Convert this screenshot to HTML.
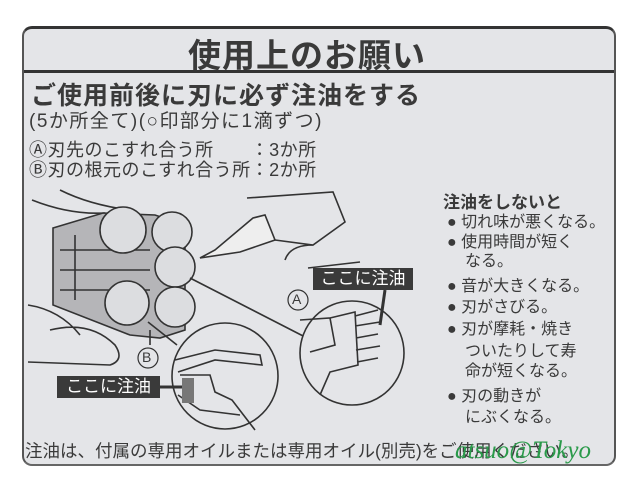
<!DOCTYPE html>
<html><head><meta charset="utf-8"><style>
body{margin:0;width:642px;height:493px;background:#fff;overflow:hidden;position:relative;font-family:"Liberation Sans","Noto Sans CJK JP",sans-serif;color:#3a3a3a}
.card{position:absolute;left:22px;top:26px;width:594px;height:440px;background:#e4e5e8;border-radius:10px;border-top:3px solid #333;border-left:2px solid #555;border-right:2px solid #555;border-bottom:2px solid #666;box-sizing:border-box}
.t{position:absolute;white-space:nowrap}
.r{position:absolute;white-space:nowrap;font-size:16px;line-height:20px}
</style></head><body>
<div class="card"></div>
<div style="position:absolute;left:24px;top:70px;width:590px;height:3px;background:#333"></div>
<div class="t" style="left:188px;top:29px;font-size:33px;font-weight:bold;letter-spacing:1px">使用上のお願い</div>
<div class="t" style="left:31px;top:76px;font-size:25px;font-weight:bold;letter-spacing:1px">ご使用前後に刃に必ず注油をする</div>
<div class="t" style="left:29px;top:106px;font-size:19px;letter-spacing:1.5px">(5か所全て)(○印部分に1滴ずつ)</div>
<div class="t" style="left:29px;top:141px;font-size:18px;line-height:19px;letter-spacing:0.5px">Ⓐ刃先のこすれ合う所　　：3か所</div>
<div class="t" style="left:29px;top:161px;font-size:18px;line-height:19px;letter-spacing:0.5px">Ⓑ刃の根元のこすれ合う所：2か所</div>
<div class="t" style="left:443px;top:188px;font-size:17px;font-weight:bold">注油をしないと</div>
<div class="r" style="left:447px;top:213px">● 切れ味が悪くなる。</div>
<div class="r" style="left:447px;top:233px">● 使用時間が短く</div>
<div class="r" style="left:465px;top:252px">なる。</div>
<div class="r" style="left:447px;top:277px">● 音が大きくなる。</div>
<div class="r" style="left:447px;top:298px">● 刃がさびる。</div>
<div class="r" style="left:447px;top:320px">● 刃が摩耗・焼き</div>
<div class="r" style="left:465px;top:342px">ついたりして寿</div>
<div class="r" style="left:465px;top:362px">命が短くなる。</div>
<div class="r" style="left:447px;top:387px">● 刃の動きが</div>
<div class="r" style="left:465px;top:408px">にぶくなる。</div>
<div class="t" style="left:25px;top:438px;font-size:17.5px">注油は、付属の専用オイルまたは専用オイル(別売)をご使用ください。</div>
<div class="t" style="left:455px;top:437px;font-size:25px;font-style:italic;color:#2a9a4a;font-family:'Liberation Serif',serif">atsuo@Tokyo</div>
<svg style="position:absolute;left:0;top:0" width="642" height="493" fill="none" stroke="#333" stroke-width="1.6">
<path d="M32 200 Q70 215 105 213 M60 190 Q90 205 130 210 M28 305 Q60 310 80 335 M50 330 Q90 320 115 345 Q125 360 110 365 L28 362" />
<path d="M53 228 L103 213 L155 215 L185 225 L185 330 L160 338 L130 335 L53 305 Z" fill="#b5b5b8"/>
<path d="M60 250 L150 250 M60 270 L150 270 M60 290 L150 290 M75 235 L75 300" />
<path d="M200 258 L215 250 L253 218 L265 215 L275 240 L240 252 Z" fill="#eee"/>
<path d="M247 198 L333 192 L345 222 L313 245 L275 240 M285 260 Q290 245 313 245 M308 268 L360 262" />
<circle cx="123" cy="230" r="23" fill="#dcdde0"/><circle cx="172" cy="232" r="20" fill="#dcdde0"/>
<circle cx="175" cy="267" r="20" fill="#dcdde0"/><circle cx="127" cy="303" r="22" fill="#dcdde0"/>
<circle cx="175" cy="307" r="20" fill="#dcdde0"/>
<path d="M190 278 L307 338 M148 322 L177 345 M150 330 L150 345" />
<circle cx="352" cy="353" r="52" fill="#e4e5e8"/>
<path d="M300 320 L330 318 L335 345 L310 352 M330 318 L355 312 L358 365 L330 372 L320 395 M355 316 L378 310 M355 326 L380 322 M356 338 L378 334 M356 350 L380 346 M357 362 L378 358" />
<circle cx="225" cy="376" r="53" fill="#e4e5e8"/>
<path d="M175 360 L215 350 L260 355 L262 365 L215 360 L178 372 M180 375 L210 375 L215 392 L232 400 L255 430 M178 395 L200 410 L240 415" />
<rect x="182" y="378" width="12" height="25" fill="#777" stroke="none"/>
<path d="M160 387 L182 387" stroke="#333" stroke-width="3"/>
<path d="M385 290 L380 325" stroke="#333" stroke-width="3"/>
<circle cx="298" cy="300" r="10" fill="#e4e5e8" stroke-width="1.2"/>
<circle cx="148" cy="358" r="10" fill="#e4e5e8" stroke-width="1.2"/>
</svg>
<div class="t" style="left:292px;top:291px;font-size:14px">A</div>
<div class="t" style="left:142px;top:349px;font-size:14px">B</div>
<div class="t" style="left:313px;top:268px;width:100px;height:22px;background:#3a3a3a;color:#fff;font-size:17px;text-align:center;line-height:22px">ここに注油</div>
<div class="t" style="left:57px;top:376px;width:103px;height:22px;background:#3a3a3a;color:#fff;font-size:17px;text-align:center;line-height:22px">ここに注油</div>
</body></html>
